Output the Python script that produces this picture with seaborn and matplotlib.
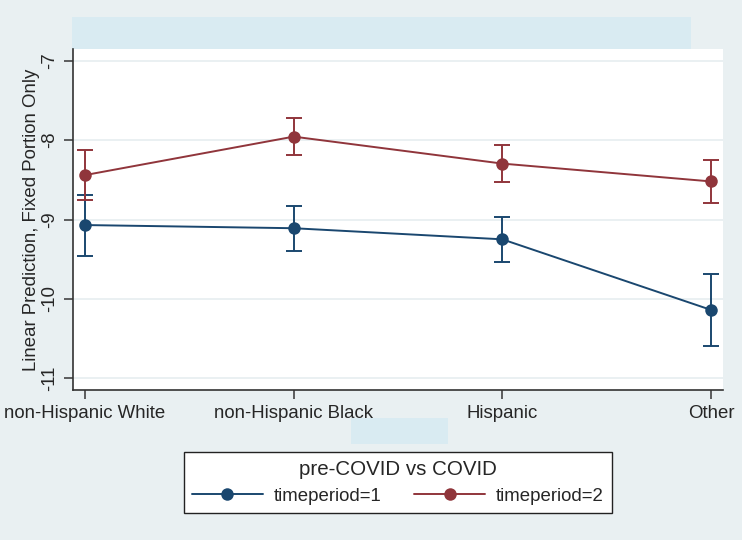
import numpy as np
import pandas as pd
import matplotlib
matplotlib.use("Agg")
import matplotlib.pyplot as plt
from matplotlib.lines import Line2D
from matplotlib.patches import Rectangle
import seaborn as sns

categories = ["non-Hispanic White", "non-Hispanic Black", "Hispanic", "Other"]
tp1_mean = [-9.07, -9.11, -9.25, -10.14]
tp1_lo = [-9.455, -9.40, -9.535, -10.59]
tp1_hi = [-8.69, -8.83, -8.97, -9.69]
tp2_mean = [-8.44, -7.955, -8.295, -8.52]
tp2_lo = [-8.75, -8.19, -8.53, -8.79]
tp2_hi = [-8.12, -7.72, -8.055, -8.25]
series_labels = ["timeperiod=1", "timeperiod=2"]
yticks = [-7, -8, -9, -10, -11]

BLUE = "#1a476f"
RED = "#90353b"
BG = "#e9f0f2"
BAND = "#d9ebf2"

sns.set_style("white")
plt.rcParams["font.family"] = ["Liberation Sans", "DejaVu Sans"]

df = pd.DataFrame({
    "x": list(range(4)) * 2,
    "y": tp1_mean + tp2_mean,
    "lo": tp1_lo + tp2_lo,
    "hi": tp1_hi + tp2_hi,
    "series": [series_labels[0]] * 4 + [series_labels[1]] * 4,
})

W, H = 742, 540
fig = plt.figure(figsize=(W / 100, H / 100), dpi=100, facecolor=BG)
L, R, T, B = 73, 723, 49, 390
ax = fig.add_axes([L / W, 1 - B / H, (R - L) / W, (B - T) / H])
ax.set_facecolor("white")
ax.set_zorder(2)

# decorative empty title/axis-title boxes (drawn behind the axes)
fig.patches.append(Rectangle((72 / W, 1 - 49 / H), (691 - 72) / W, (49 - 17) / H,
                             transform=fig.transFigure, facecolor=BAND, edgecolor="none", zorder=-1))
fig.patches.append(Rectangle((351 / W, 1 - 444 / H), (448 - 351) / W, (444 - 418) / H,
                             transform=fig.transFigure, facecolor=BAND, edgecolor="none", zorder=-1))

palette = {series_labels[0]: BLUE, series_labels[1]: RED}
for lab in series_labels:
    d = df[df.series == lab]
    ax.errorbar(d.x, d.y, yerr=[d.y - d.lo, d.hi - d.y], fmt="none",
                ecolor=palette[lab], elinewidth=1.4, capsize=5.5, capthick=1.4, zorder=2)
sns.lineplot(data=df, x="x", y="y", hue="series", palette=palette, marker="o",
             markersize=9, markeredgewidth=0, linewidth=1.4, ax=ax, legend=False,
             estimator=None, zorder=3)

ax.set_xlim(-0.0575, 3.0575)
ax.set_ylim(-11.15, -6.85)
ax.set_xticks(range(4))
ax.set_xticklabels(categories, fontsize=13.4)
ax.set_yticks(yticks)
ax.set_yticklabels([str(v) for v in yticks], fontsize=13.4, rotation=90, va="center")
ax.set_xlabel("")
ax.set_ylabel("Linear Prediction, Fixed Portion Only", fontsize=13.4, labelpad=1)
ax.tick_params(axis="both", which="both", length=6.5, width=1.2, color="#444444",
               direction="out", left=True, bottom=True, pad=4)
ax.grid(axis="y", color="#e6eef0", linewidth=1.2)
ax.set_axisbelow(True)
for s in ["top", "right"]:
    ax.spines[s].set_visible(False)
for s in ["left", "bottom"]:
    ax.spines[s].set_color("#333333")
    ax.spines[s].set_linewidth(1.2)

handles = [Line2D([], [], color=BLUE, marker="o", markersize=9, markeredgewidth=0, linewidth=1.4),
           Line2D([], [], color=RED, marker="o", markersize=9, markeredgewidth=0, linewidth=1.4)]
leg = fig.legend(handles, series_labels, loc="center", bbox_to_anchor=(398 / W, 1 - 482.5 / H),
                 ncol=2, title="pre-COVID vs COVID", fontsize=13.4, title_fontsize=14.8,
                 frameon=True, fancybox=False, edgecolor="#222222", facecolor="white", framealpha=1,
                 handlelength=3.8, handletextpad=0.6, columnspacing=1.75, borderpad=0.45,
                 labelspacing=0.45)
leg.get_frame().set_linewidth(1.0)

fig.savefig("out.png", dpi=100, facecolor=BG)
